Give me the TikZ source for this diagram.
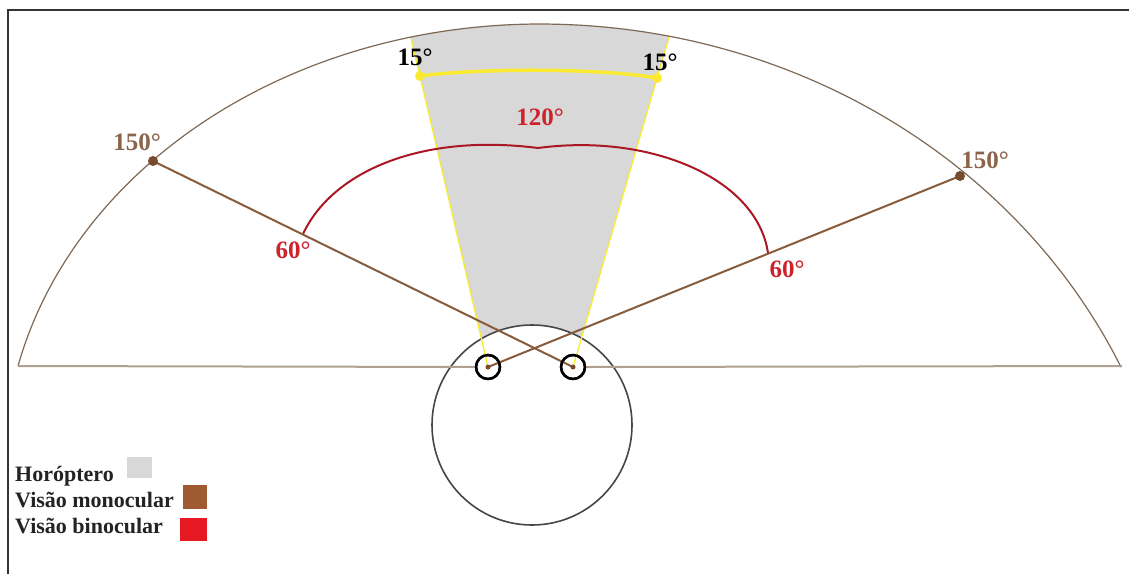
\documentclass[tikz,border=0pt]{standalone}
\usepackage{fontspec}
\setmainfont{Liberation Serif}
\definecolor{domec}{RGB}{125,105,85}
\definecolor{basec}{RGB}{175,160,145}
\definecolor{yelc}{RGB}{250,235,50}
\definecolor{brownc}{RGB}{135,92,60}
\definecolor{browndot}{RGB}{120,75,45}
\definecolor{headc}{RGB}{70,70,70}
\definecolor{redarc}{RGB}{170,25,35}
\definecolor{redlbl}{RGB}{205,35,45}
\definecolor{brownlbl}{RGB}{140,100,75}
\definecolor{grayfill}{RGB}{216,216,216}
\definecolor{legbrown}{RGB}{160,90,50}
\definecolor{legred}{RGB}{230,25,35}
\definecolor{legc}{RGB}{35,35,35}
\tikzset{
 frameline/.style={draw=black!80, line width=1.5pt},
 domeline/.style={draw=domec, line width=1.2pt},
 baseln/.style={draw=basec, line width=2pt},
 yel/.style={draw=yelc, line width=1.3pt},
 yelarc/.style={draw=yelc, line width=3.5pt},
 brn/.style={draw=brownc, line width=2pt},
 redln/.style={draw=redarc, line width=2pt},
 dotb/.style={circle, fill=browndot, inner sep=0pt, minimum size=10pt},
 doty/.style={circle, fill=yelc, inner sep=0pt, minimum size=10pt},
 eyec/.style={circle, draw=black, line width=2.4pt, inner sep=0pt, minimum size=24pt},
 lbl/.style={font=\bfseries\fontsize{25}{25}\selectfont, anchor=base, inner sep=0pt},
 leg/.style={font=\bfseries\fontsize{22}{22}\selectfont, anchor=base west, inner sep=0pt, text=legc}
}
\begin{document}
\begin{tikzpicture}[x=1pt,y=-1pt]
\useasboundingbox (0,0) rectangle (1129,574);
\fill[white] (0,0) rectangle (1129,574);
% frame
\draw[frameline] (8,574) -- (8,10) -- (1129,10);
% coordinates
\coordinate (eyeL) at (488,367);
\coordinate (eyeR) at (573,367);
\coordinate (p150L) at (153,161);
\coordinate (p150R) at (960,176);
\coordinate (yL) at (420,76);
\coordinate (yR) at (657,78);
\coordinate (yTopL) at (402,0);
\coordinate (yTopR) at (680,0);
\coordinate (baseL) at (18,366);
\coordinate (baseR) at (1122,366);
\coordinate (head) at (532,425);
\coordinate (r60L) at (303,234);
\coordinate (r60R) at (768,253);
\coordinate (rMid) at (538,148);
% gray horopter region and yellow upper rays, clipped by the dome
\begin{scope}
\clip plot[domain=166.92:90, samples=60, variable=\t] ({540+535.9*cos(\t)},{466-442*sin(\t)})
   -- plot[domain=90:24.87, samples=60, variable=\t] ({540+640.4*cos(\t)},{616-592*sin(\t)}) -- cycle;
\fill[grayfill] (eyeL) -- (yTopL) -- (yTopR) -- (eyeR) -- cycle;
\draw[yel] (yL) -- (yTopL);
\draw[yel] (yR) -- (yTopR);
\end{scope}
% dome
\draw[domeline] plot[domain=166.92:90, samples=80, variable=\t] ({540+535.9*cos(\t)},{466-442*sin(\t)})
   -- plot[domain=90:24.87, samples=80, variable=\t] ({540+640.4*cos(\t)},{616-592*sin(\t)});
% head
\fill[white] (head) circle[radius=100pt];
\draw[draw=headc, line width=1.6pt] (head) circle[radius=100pt];
% eyes
\node[eyec] (eL) at (eyeL) {};
\node[eyec] (eR) at (eyeR) {};
% baseline
\draw[baseln] (baseL) -- (eL.west);
\draw[baseln] (eR.east) -- (baseR);
% yellow lines
\draw[yel] (eyeL) -- (yL);
\draw[yel] (eyeR) -- (yR);
\draw[yelarc] (yL) .. controls (480,68) and (600,68) .. (yR);
\node[doty] (dyL) at (yL) {};
\node[doty] (dyR) at (yR) {};
% red binocular arc
\draw[redln] (r60L) .. controls (332,172) and (420,133) .. (rMid);
\draw[redln] (rMid) .. controls (650,133) and (757,178) .. (r60R);
% brown monocular lines
\draw[brn] (eyeL) -- (p150R);
\draw[brn] (eyeR) -- (p150L);
\node[dotb] (dbL) at (p150L) {};
\node[dotb] (dbR) at (p150R) {};
\fill[browndot] (eyeL) circle[radius=2.5pt];
\fill[browndot] (eyeR) circle[radius=2.5pt];
% eye rings on top
\draw[black, line width=2.4pt] (eyeL) circle[radius=12pt];
\draw[black, line width=2.4pt] (eyeR) circle[radius=12pt];
% labels
\node[lbl, text=black] (t15L) at (415,65) {15°};
\node[lbl, text=black] (t15R) at (660,70) {15°};
\node[lbl, text=redlbl] (t120) at (540,125) {120°};
\node[lbl, text=brownlbl] (t150L) at (137,150) {150°};
\node[lbl, text=brownlbl] (t150R) at (985,168) {150°};
\node[lbl, text=redlbl] (t60L) at (293,258) {60°};
\node[lbl, text=redlbl] (t60R) at (787,277) {60°};
% legend
\node[leg] (lgH) at (15,481) {Horóptero};
\node[leg] (lgM) at (15,507) {Visão monocular};
\node[leg] (lgB) at (15,533) {Visão binocular};
\fill[grayfill] (127,457) rectangle (152,478);
\fill[legbrown] (183,485) rectangle (207,509);
\fill[legred] (180,518) rectangle (207,541);
\end{tikzpicture}
\end{document}
